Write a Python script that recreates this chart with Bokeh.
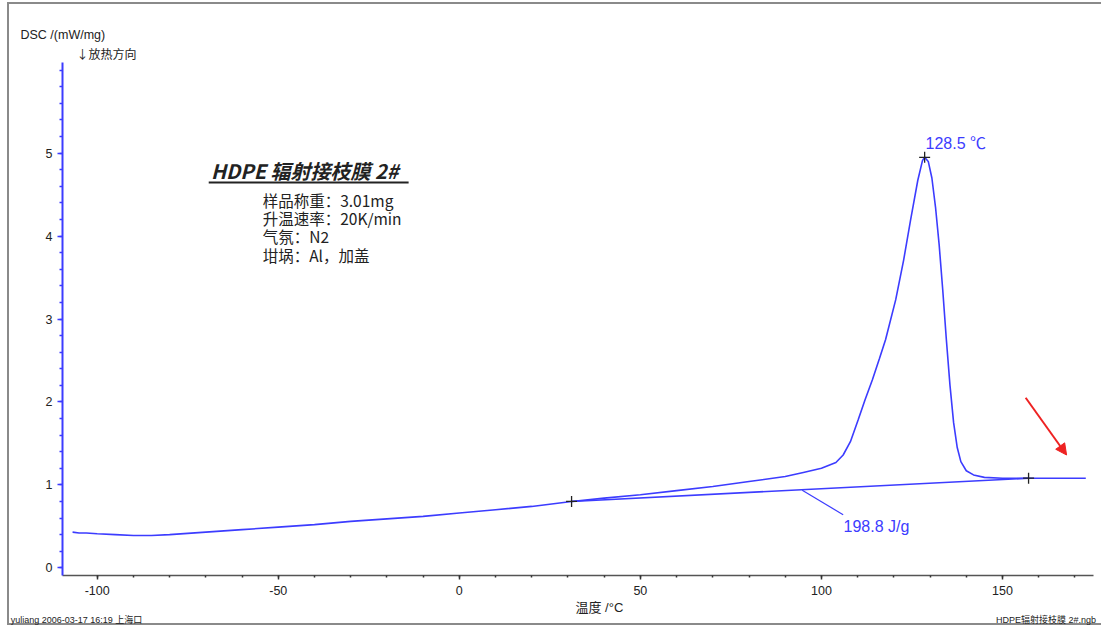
from bokeh.plotting import figure
from bokeh.models import Range1d, Label, FixedTicker, Arrow, NormalHead, Title, LinearAxis
from bokeh.embed import file_html
from bokeh.resources import INLINE

# ---- data ----
temp = [-106.8, -105, -103, -100, -95, -90, -85, -80, -70, -60, -50, -40, -30, -20, -10, 0, 10, 20,
        31.0, 40, 50, 60, 70, 80, 90, 95, 100, 104, 106, 108, 110.2, 112, 114.1, 116, 117.7, 120.5,
        122.7, 124.6, 126.6, 127.9, 128.5, 129.5, 130.5, 131.5, 132.5, 133.5, 134.5, 135.5, 136.5,
        137.5, 138.5, 140, 142, 145, 150, 157.2, 165, 173]
dsc = [0.43, 0.42, 0.42, 0.41, 0.40, 0.39, 0.39, 0.40, 0.43, 0.46, 0.49, 0.52, 0.56, 0.59, 0.62, 0.66,
       0.70, 0.74, 0.80, 0.84, 0.88, 0.93, 0.98, 1.04, 1.10, 1.15, 1.20, 1.27, 1.36, 1.52, 1.79, 2.02,
       2.27, 2.52, 2.75, 3.23, 3.71, 4.19, 4.67, 4.91, 4.95, 4.90, 4.70, 4.35, 3.90, 3.35, 2.75, 2.20,
       1.75, 1.45, 1.28, 1.17, 1.12, 1.09, 1.08, 1.08, 1.08, 1.08]
base_t = [31.0, 157.2]
base_y = [0.80, 1.08]
mark_t = [31.0, 128.5, 157.2]
mark_y = [0.80, 4.95, 1.08]
leader_t = [94.7, 106.0]
leader_y = [0.934, 0.64]
x_major = [-100, -50, 0, 50, 100, 150]
x_labels = ["-100", "-50", "0", "50", "100", "150"]
x_minor = [-100, -90, -80, -70, -60, -50, -40, -30, -20, -10, 0, 10, 20, 30, 40, 50, 60, 70, 80,
           90, 100, 110, 120, 130, 140, 150, 160, 170]
y_major = [0, 1, 2, 3, 4, 5]
y_minor = [round(0.2 * i, 1) for i in range(0, 31)]
footer_pos = [-104, 162]
footer_text = ["yuliang   2006-03-17  16:19   上海口", "HDPE辐射接枝膜 2#.ngb"]

BLUE = "#3c3cff"
FONT = "Liberation Sans, Arial, 'Noto Sans CJK SC', sans-serif"
CJK = "'Noto Sans CJK SC', 'Liberation Sans', sans-serif"
GREY = "#8a8a8a"

p = figure(width=1101, height=627, output_backend="svg", toolbar_location=None,
           x_range=Range1d(-109.58, 175.13), y_range=Range1d(-0.093, 6.093),
           min_border_left=62, min_border_top=62, min_border_right=8, min_border_bottom=51)
p.outline_line_color = None
p.xgrid.visible = False
p.ygrid.visible = False
p.background_fill_color = "white"
p.border_fill_color = None
# grey frame of the original screenshot (left, top, bottom edges)
p.styles = {
    "background": (f"linear-gradient({GREY},{GREY}) 7px 2px / 2px 623px no-repeat, "
                   f"linear-gradient({GREY},{GREY}) 7px 2px / 1200px 2px no-repeat, "
                   f"linear-gradient({GREY},{GREY}) 7px 623px / 1200px 2px no-repeat, white"),
}

# axes
p.xaxis.ticker = FixedTicker(ticks=x_major, minor_ticks=x_minor)
p.xaxis.major_label_overrides = dict(zip(x_major, x_labels))
p.yaxis.ticker = FixedTicker(ticks=y_major, minor_ticks=y_minor)
for ax in (p.xaxis, p.yaxis):
    ax.major_label_text_font = FONT
    ax.major_label_text_font_size = "12.5px"
    ax.major_label_text_color = "#222222"
    ax.major_tick_in = 0
    ax.minor_tick_in = 0
p.xaxis.axis_line_color = "#555555"
p.xaxis.axis_line_width = 1.5
p.xaxis.major_tick_line_color = "#333333"
p.xaxis.minor_tick_line_color = "#333333"
p.xaxis.major_tick_out = 4
p.xaxis.minor_tick_out = 2
p.xaxis.major_tick_line_width = 1.5
p.xaxis.minor_tick_line_width = 1.5
p.xaxis.major_label_standoff = 6
p.yaxis.axis_line_color = BLUE
p.yaxis.axis_line_width = 2
p.yaxis.major_tick_line_color = BLUE
p.yaxis.minor_tick_line_color = BLUE
p.yaxis.major_tick_out = 5
p.yaxis.minor_tick_out = 3
p.yaxis.major_tick_line_width = 1.5
p.yaxis.minor_tick_line_width = 1.5

# captions outside the frame
p.title.text = "DSC /(mW/mg)"
p.title.align = "left"
p.title.offset = -42
p.title.standoff = 1
p.title.text_font = FONT
p.title.text_font_size = "12.5px"
p.title.text_font_style = "normal"
p.title.text_color = "#222222"

def title(text, side, offset, size, font=FONT, align="left", valign="bottom", standoff=1):
    t = Title(text=text, align=align, offset=offset, standoff=standoff, text_font=font,
              text_font_size=size, text_font_style="normal", text_color="#222222",
              vertical_align=valign)
    p.add_layout(t, side)

title("↓放热方向", "above", 14, "12px", font=CJK)
title("温度 /°C", "below", 513, "13px", font=FONT, standoff=0)

# footer line: an unstyled axis whose two tick labels are the footer texts
footer = LinearAxis(ticker=FixedTicker(ticks=footer_pos),
                    major_label_overrides=dict(zip(footer_pos, footer_text)),
                    axis_line_color=None, major_tick_line_color=None, minor_tick_line_color=None,
                    major_tick_out=0, major_tick_in=0, major_label_standoff=0,
                    major_label_text_font=FONT, major_label_text_font_size="9px",
                    major_label_text_color="#222222")
p.add_layout(footer, "below")

# curves
p.line(temp, dsc, line_color=BLUE, line_width=1.6)
p.line(base_t, base_y, line_color=BLUE, line_width=1.6)
p.line(leader_t, leader_y, line_color=BLUE, line_width=1.2)
p.scatter(mark_t, mark_y, marker="cross", size=11, line_color="#222222", line_width=1.3)

# red arrow
p.add_layout(Arrow(end=NormalHead(size=11, fill_color="#ee2222", line_color="#ee2222"),
                   x_start=156.4, y_start=2.05, x_end=167.7, y_end=1.36,
                   line_color="#ee2222", line_width=2))

def lab(x, y, text, size="12px", color="#222222", font=FONT, style="normal"):
    p.add_layout(Label(x=x, y=y, text=text, text_font=font,
                       text_font_size=size, text_color=color, text_font_style=style,
                       text_baseline="middle", text_align="left"))

lab(128.75, 5.12, "128.5 ℃", size="16px", color=BLUE)
lab(106.1, 0.50, "198.8 J/g", size="16px", color=BLUE)

# title block
lab(-68.6, 4.79, "HDPE 辐射接枝膜 2#", size="20px", style="bold italic", font=CJK)
p.line([-69.2, -14.0], [4.645, 4.645], line_color="#222222", line_width=2)
lab(-54.3, 4.44, "样品称重：3.01mg", size="15.5px", font=CJK)
lab(-54.3, 4.22, "升温速率：20K/min", size="15.5px", font=CJK)
lab(-54.3, 4.00, "气氛：N2", size="15.5px", font=CJK)
lab(-54.3, 3.77, "坩埚：Al，加盖", size="15.5px", font=CJK)

open("out.html", "w").write(file_html(p, INLINE))
